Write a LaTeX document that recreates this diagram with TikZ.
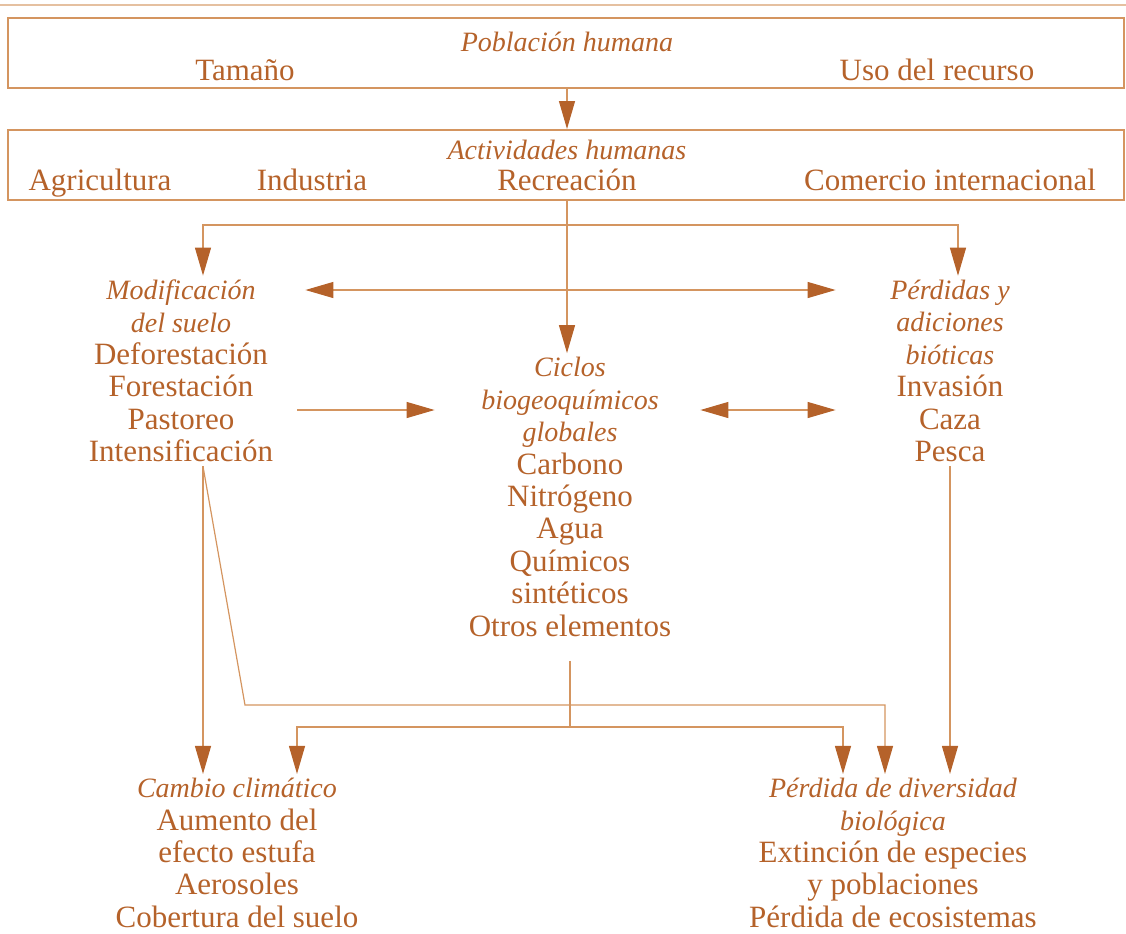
\documentclass[tikz,border=0pt]{standalone}
\usepackage{fontspec}
\setmainfont{Liberation Serif}
\usetikzlibrary{arrows.meta}
\definecolor{ink}{HTML}{B5622A}
\definecolor{wire}{HTML}{D49560}
\newcommand{\hd}[1]{{\fontsize{14}{16.2}\selectfont\itshape #1}}
\tikzset{
  lbl/.style={text=ink, align=flush center, inner sep=2pt, font=\fontsize{15.5}{16.2}\selectfont},
  band/.style={draw=wire, line width=1pt, minimum width=558pt, minimum height=35pt},
}
\begin{document}
\begin{tikzpicture}[x=0.5pt, y=-0.5pt, every node/.style={lbl},
    >={Triangle[length=14pt, width=8pt, color=ink]}]
      \useasboundingbox (0,0) rectangle (1126,933);
      \draw[wire!60, line width=0.8pt] (0,5) -- (1126,5);
      \node[band] (popbox) at (566,53) {};
      \node[band] (actbox) at (566,165) {};
      \draw
        (567,42) node (pob){\hd{Población humana}}
        (245,70) node (tam){Tamaño}
        (937,70) node (uso){Uso del recurso}
        (567,150) node (act){\hd{Actividades humanas}}
        (100,180) node[text depth=0pt] (agr){Agricultura}
        (312,180) node (ind){Industria}
        (567,180) node (rec){Recreación}
        (950,180) node (com){Comercio internacional}
        (181,371) node[text width=100pt] (mod){\hd{Modificación}\\ \hd{del suelo}\\ Deforestación\\ Forestación\\ Pastoreo\\ Intensificación}
        (570,497) node[text width=115pt] (cic){\hd{Ciclos}\\ \hd{biogeoquímicos}\\ \hd{globales}\\ Carbono\\ Nitrógeno\\ Agua\\ Químicos\\ sintéticos\\ Otros elementos}
        (950,371) node[text width=70pt] (per){\hd{Pérdidas y}\\ \hd{adiciones}\\ \hd{bióticas}\\ Invasión\\ Caza\\ Pesca}
        (237,853) node[text width=140pt] (cam){\hd{Cambio climático}\\ Aumento del\\ efecto estufa\\ Aerosoles\\ Cobertura del suelo}
        (893,853) node[text width=150pt] (div){\hd{Pérdida de diversidad}\\ \hd{biológica}\\ Extinción de especies\\ y poblaciones\\ Pérdida de ecosistemas};
      \coordinate (j1) at (567,225);
      \coordinate (j1l) at (203,225);
      \coordinate (j1r) at (958,225);
      \coordinate (rowa) at (0,290);
      \coordinate (rowb) at (0,410);
      \coordinate (k1) at (245,705);
      \coordinate (k2) at (885,705);
      \coordinate (j2) at (570,727);
      \coordinate (j2l) at (297,727);
      \coordinate (j2r) at (843,727);
      \begin{scope}[draw=wire, line width=0.6pt]
        \draw[->] (pob |- popbox.south) to (pob |- actbox.north);
        \draw (pob |- actbox.south) to (j1);
        \draw[->] (j1) to (j1 |- cic.north);
        \draw[->] (j1) -- (j1l) -- (j1l |- mod.north);
        \draw[->] (j1) -- (j1r) -- (j1r |- per.north);
        \draw[<->, shorten <=10pt, shorten >=20pt] (mod.east |- rowa) to (per.west |- rowa);
        \draw[->, shorten <=6pt, shorten >=8pt] (mod.east |- rowb) to (cic.west |- rowb);
        \draw[<->, shorten <=5.5pt, shorten >=20pt] (cic.east |- rowb) to (per.west |- rowb);
        \draw[->] (j1l |- mod.south) to (j1l |- cam.north);
        \draw[->] (j1l |- mod.south) -- (k1) -- (k2) -- (k2 |- div.north);
        \draw[shorten <=10pt] (cic.south) to (j2);
        \draw[->] (j2) -- (j2l) -- (j2l |- cam.north);
        \draw[->] (j2) -- (j2r) -- (j2r |- div.north);
        \draw[->] (per.south) to (per.south |- div.north);
      \end{scope}
\end{tikzpicture}
\end{document}
